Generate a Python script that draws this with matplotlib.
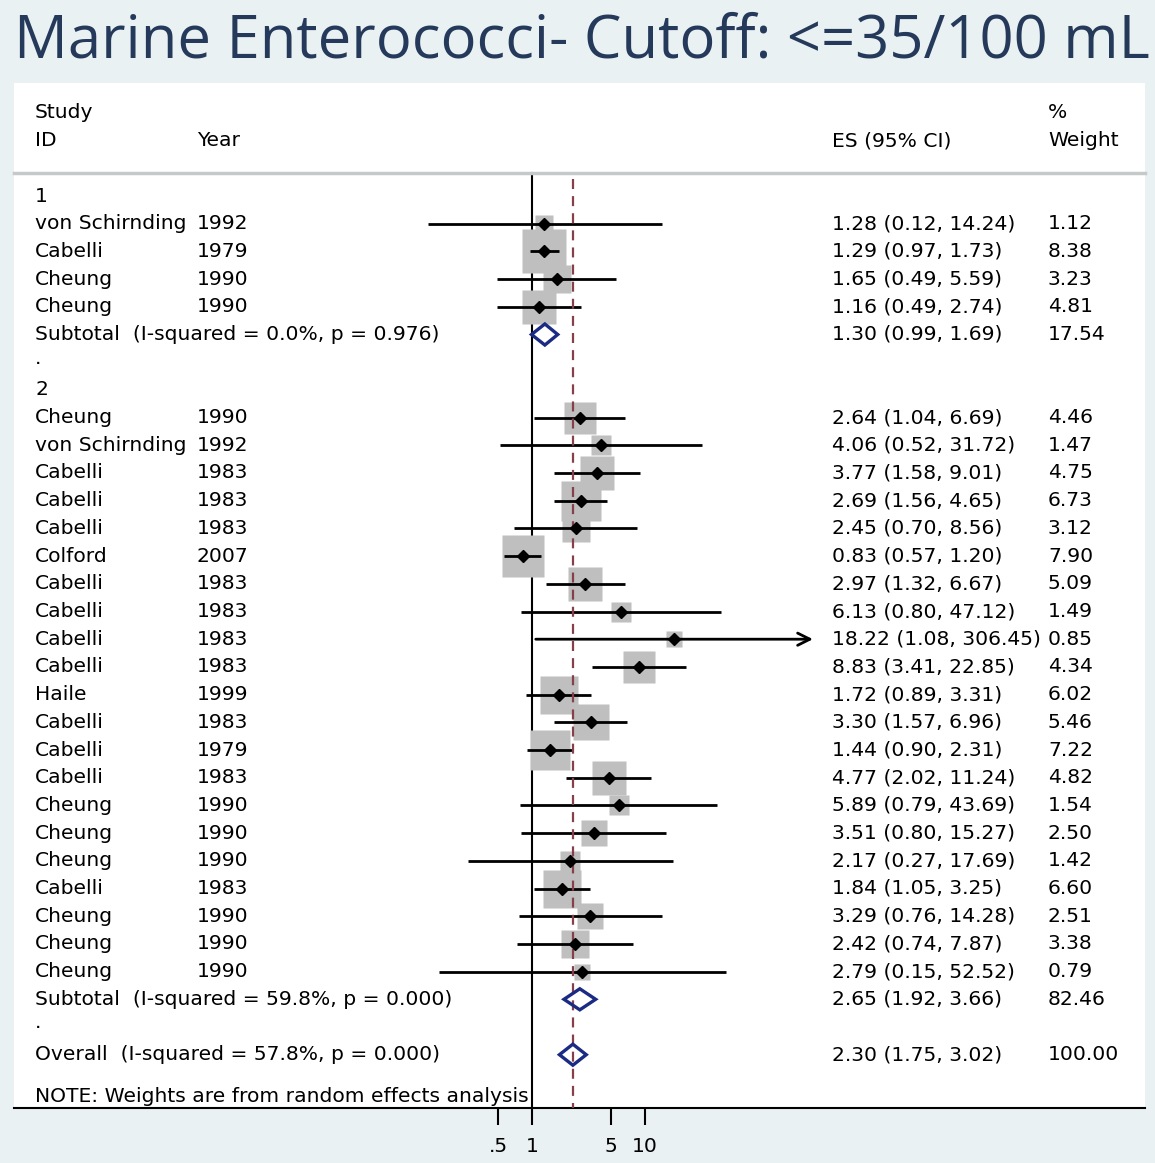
import numpy as np
import matplotlib
matplotlib.use('Agg')
from matplotlib import pyplot as plt
from matplotlib.patches import Polygon

# group 1 studies
g1_study = ['von Schirnding', 'Cabelli', 'Cheung', 'Cheung']
g1_year = ['1992', '1979', '1990', '1990']
g1_es = [1.28, 1.29, 1.65, 1.16]
g1_lo = [0.12, 0.97, 0.49, 0.49]
g1_hi = [14.24, 1.73, 5.59, 2.74]
g1_w = [1.12, 8.38, 3.23, 4.81]
g1_sub = (1.30, 0.99, 1.69, 17.54)
g1_sub_label = 'Subtotal  (I-squared = 0.0%, p = 0.976)'

# group 2 studies
g2_study = ['Cheung', 'von Schirnding', 'Cabelli', 'Cabelli', 'Cabelli', 'Colford',
            'Cabelli', 'Cabelli', 'Cabelli', 'Cabelli', 'Haile', 'Cabelli', 'Cabelli',
            'Cabelli', 'Cheung', 'Cheung', 'Cheung', 'Cabelli', 'Cheung', 'Cheung', 'Cheung']
g2_year = ['1990', '1992', '1983', '1983', '1983', '2007', '1983', '1983', '1983', '1983',
           '1999', '1983', '1979', '1983', '1990', '1990', '1990', '1983', '1990', '1990', '1990']
g2_es = [2.64, 4.06, 3.77, 2.69, 2.45, 0.83, 2.97, 6.13, 18.22, 8.83, 1.72, 3.30, 1.44,
         4.77, 5.89, 3.51, 2.17, 1.84, 3.29, 2.42, 2.79]
g2_lo = [1.04, 0.52, 1.58, 1.56, 0.70, 0.57, 1.32, 0.80, 1.08, 3.41, 0.89, 1.57, 0.90,
         2.02, 0.79, 0.80, 0.27, 1.05, 0.76, 0.74, 0.15]
g2_hi = [6.69, 31.72, 9.01, 4.65, 8.56, 1.20, 6.67, 47.12, 306.45, 22.85, 3.31, 6.96, 2.31,
         11.24, 43.69, 15.27, 17.69, 3.25, 14.28, 7.87, 52.52]
g2_w = [4.46, 1.47, 4.75, 6.73, 3.12, 7.90, 5.09, 1.49, 0.85, 4.34, 6.02, 5.46, 7.22,
        4.82, 1.54, 2.50, 1.42, 6.60, 2.51, 3.38, 0.79]
g2_sub = (2.65, 1.92, 3.66, 82.46)
g2_sub_label = 'Subtotal  (I-squared = 59.8%, p = 0.000)'

overall = (2.30, 1.75, 3.02, 100.00)
overall_label = 'Overall  (I-squared = 57.8%, p = 0.000)'
x_max = 306.45   # CIs beyond this get an arrow

tick_vals = [0.5, 1, 5, 10]
tick_labels = ['.5', '1', '5', '10']

title = 'Marine Enterococci- Cutoff: <=35/100 mL'
note = 'NOTE: Weights are from random effects analysis'

bg = '#eaf1f3'
navy = '#1b2a82'
fs = 14.6

W, H = 1155, 1163
fig = plt.figure(figsize=(W / 100, H / 100), dpi=100, facecolor=bg)
ax = fig.add_axes([14 / W, 55 / H, 1131 / W, 1025 / H])
ax.set_facecolor('white')
ax.set_xscale('log')
ax.set_xlim(10 ** -4.584, 10 ** 5.425)
row_h = 27.7
ax.set_ylim((1108 - 196) / row_h, (83 - 196) / row_h)
for s in ['top', 'left', 'right']:
    ax.spines[s].set_visible(False)
ax.spines['bottom'].set_linewidth(1.5)
ax.set_yticks([])
ax.set_xticks(tick_vals)
ax.set_xticklabels(tick_labels, fontsize=fs)
ax.minorticks_off()
ax.tick_params(axis='x', length=12, width=1.5, pad=9)

tr = ax.get_yaxis_transform()  # x in axes fraction, y in data
x_name, x_year, x_es, x_w = 0.0186, 0.1618, 0.7233, 0.9142

# headers
ax.text(x_name, -3, 'Study', transform=tr, fontsize=fs, va='center')
ax.text(x_w, -3, '%', transform=tr, fontsize=fs, va='center')
ax.text(x_name, -2, 'ID', transform=tr, fontsize=fs, va='center')
ax.text(x_year, -2, 'Year', transform=tr, fontsize=fs, va='center')
ax.text(x_es, -2, 'ES (95% CI)', transform=tr, fontsize=fs, va='center')
ax.text(x_w, -2, 'Weight', transform=tr, fontsize=fs, va='center')
ax.plot([0, 1], [-0.83, -0.83], transform=tr, color='#c6c9ca', lw=2.5, clip_on=False)

ymax = ax.get_ylim()[0]
ax.plot([1, 1], [-0.83, ymax], color='black', lw=1.5, zorder=1)
ax.plot([overall[0]] * 2, [-0.6, ymax], color='#86404a', lw=1.6, dashes=(4.5, 3.2), zorder=4)


def study_rows(start, names, years, es, lo, hi, w):
    for i in range(len(names)):
        y = start + i
        side = 13.5 * np.sqrt(w[i]) + 4
        ax.plot(es[i], y, marker='s', ms=side * 0.72, color='#bfbfbf', mec='none', zorder=2)
        top = min(hi[i], x_max)
        if hi[i] >= x_max:
            ax.annotate('', xy=(top, y), xytext=(lo[i], y),
                        arrowprops=dict(arrowstyle='->', lw=2, color='black',
                                        mutation_scale=22, shrinkA=0, shrinkB=0), zorder=3)
        else:
            ax.plot([lo[i], top], [y, y], color='black', lw=2, zorder=3, solid_capstyle='butt')
        ax.plot(es[i], y, marker='D', ms=6, color='black', zorder=5)
        ax.text(x_name, y, names[i], transform=tr, fontsize=fs, va='center')
        ax.text(x_year, y, years[i], transform=tr, fontsize=fs, va='center')
        ax.text(x_es, y, '%.2f (%.2f, %.2f)' % (es[i], lo[i], hi[i]), transform=tr,
                fontsize=fs, va='center')
        ax.text(x_w, y, '%.2f' % w[i], transform=tr, fontsize=fs, va='center')


def pooled(y, vals, label):
    es, lo, hi, w = vals
    h = 0.38
    ax.add_patch(Polygon([(lo, y), (es, y - h), (hi, y), (es, y + h)], closed=True,
                         fill=False, ec=navy, lw=2.4, zorder=6))
    ax.text(x_name, y, label, transform=tr, fontsize=fs, va='center')
    ax.text(x_es, y, '%.2f (%.2f, %.2f)' % (es, lo, hi), transform=tr, fontsize=fs, va='center')
    ax.text(x_w, y, '%.2f' % w, transform=tr, fontsize=fs, va='center')


ax.text(x_name, 0, '1', transform=tr, fontsize=fs, va='center')
study_rows(1, g1_study, g1_year, g1_es, g1_lo, g1_hi, g1_w)
pooled(1 + len(g1_study), g1_sub, g1_sub_label)
r = 2 + len(g1_study)
ax.text(x_name, r - 0.15, '.', transform=tr, fontsize=fs, va='center')
ax.text(x_name, r + 1, '2', transform=tr, fontsize=fs, va='center')
study_rows(r + 2, g2_study, g2_year, g2_es, g2_lo, g2_hi, g2_w)
r2 = r + 2 + len(g2_study)
pooled(r2, g2_sub, g2_sub_label)
ax.text(x_name, r2 + 1 - 0.15, '.', transform=tr, fontsize=fs, va='center')
pooled(r2 + 2, overall, overall_label)
ax.text(x_name, r2 + 3.5, note, transform=tr, fontsize=fs, va='center')

fig.text(14 / W, 1 - 58 / H, title, fontsize=43, color='#253a5b', family='Open Sans',
         va='baseline', ha='left')

fig.savefig('out.png', dpi=100, facecolor=bg)
